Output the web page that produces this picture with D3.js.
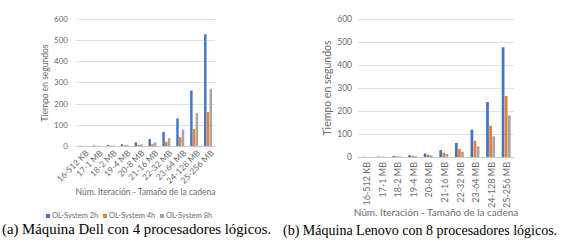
<!DOCTYPE html>
<html>
<head>
<meta charset="utf-8">
<script src="https://cdn.jsdelivr.net/npm/d3@7"></script>
<style>
  body { margin: 0; background: #fff; }
  svg { display: block; }
</style>
</head>
<body>
<svg id="chart" width="561" height="247"></svg>
<script>
// categories (iteration - string size)
var categories = ["16-512 KB", "17-1 MB", "18-2 MB", "19-4 MB", "20-8 MB",
                  "21-16 MB", "22-32 MB", "23-64 MB", "24-128 MB", "25-256 MB"];
var seriesNames = ["OL-System 2h", "OL-System 4h", "OL-System 8h"];
var yTicks = [0, 100, 200, 300, 400, 500, 600];

// (a) Dell, 4 logical processors
var dell2h = [1, 2, 4, 8, 17, 33, 66, 130, 261, 526];
var dell4h = [0.5, 1, 1.5, 3, 5, 10, 20, 41, 80, 160];
var dell8h = [0.5, 1, 2, 4, 8, 17, 37, 77, 155, 269];

// (b) Lenovo, 8 logical processors
var lenovo2h = [1, 2, 4, 7, 15, 30, 61, 119, 239, 477];
var lenovo4h = [0.7, 1.5, 3, 5, 10, 19, 35, 70, 135, 265];
var lenovo8h = [0.5, 1, 2, 4, 7, 13, 23, 46, 90, 181];

var colors = ["#4472C4", "#ED7D31", "#A5A5A5"];
var uiFont = "Lato, 'Open Sans', sans-serif";
var textGray = "#6a6a6a";

var svg = d3.select("#chart");

function drawChart(opts) {
    var g = svg.append("g");
    var rows = categories.map((c, i) => ({
        cat: c,
        vals: opts.series.map(s => s[i])
    }));

    var x = d3.scaleBand()
              .domain(categories)
              .range([opts.x0, opts.x1])
              .paddingInner(0.38)
              .paddingOuter(0.19);
    var xs = d3.scaleBand()
               .domain(d3.range(3))
               .range([0, x.bandwidth()])
               .padding(0.12);
    var y = d3.scaleLinear()
              .domain([0, 600])
              .range([opts.y0, opts.y1]);

    // gridlines
    g.append("g")
     .selectAll("line")
     .data(yTicks)
     .enter()
     .append("line")
     .attr("x1", opts.x0)
     .attr("x2", opts.x1)
     .attr("y1", d => Math.round(y(d)) + 0.5)
     .attr("y2", d => Math.round(y(d)) + 0.5)
     .attr("stroke", d => d === 0 ? "#c8c8c8" : "#e0e0e0")
     .attr("stroke-width", 1);

    // y axis labels
    var yAxis = g.append("g")
                 .attr("transform", `translate(${opts.x0},0)`)
                 .call(d3.axisLeft(y).tickValues(yTicks).tickSize(0).tickPadding(opts.x0 - opts.yLabelRight));
    yAxis.select(".domain").remove();
    yAxis.selectAll("text")
         .attr("fill", textGray)
         .style("font-family", uiFont)
         .style("font-size", opts.tickSize + "px");

    // bars
    g.append("g")
     .selectAll("g")
     .data(rows)
     .enter()
     .append("g")
     .attr("transform", d => `translate(${x(d.cat)},0)`)
     .selectAll("rect")
     .data(d => d.vals)
     .enter()
     .append("rect")
     .attr("x", (d, i) => xs(i))
     .attr("y", d => y(d))
     .attr("width", xs.bandwidth())
     .attr("height", d => y(0) - y(d))
     .attr("fill", (d, i) => colors[i]);

    // x axis labels
    var xAxis = g.append("g")
                 .attr("transform", `translate(0,${opts.y0})`)
                 .call(d3.axisBottom(x).tickSize(0).tickPadding(0));
    xAxis.select(".domain").remove();
    xAxis.selectAll("text")
         .attr("fill", textGray)
         .style("font-family", uiFont)
         .style("font-size", opts.catSize + "px")
         .attr("y", 0)
         .attr("dy", 0)
         .attr("transform", opts.rotate === 90
             ? "translate(2,5) rotate(-90)"
             : "translate(5,6) rotate(-45)")
         .attr("dominant-baseline", "middle")
         .style("text-anchor", "end");

    // axis titles
    g.append("text")
     .attr("x", (opts.x0 + opts.x1) / 2)
     .attr("y", opts.xTitleY)
     .attr("text-anchor", "middle")
     .attr("fill", textGray)
     .style("font-family", uiFont)
     .style("font-size", opts.xTitleSize + "px")
     .text("Núm. Iteración - Tamaño de la cadena");

    g.append("text")
     .attr("transform", `translate(${opts.yTitleX},${opts.yTitleMid}) rotate(-90)`)
     .attr("text-anchor", "middle")
     .attr("fill", textGray)
     .style("font-family", uiFont)
     .style("font-size", opts.yTitleSize + "px")
     .text("Tiempo en segundos");

    // legend
    if (opts.legend) {
        var legend = g.append("g")
                      .attr("transform", `translate(${opts.legend.x},${opts.legend.y})`);
        var item = legend.selectAll("g")
                         .data(seriesNames)
                         .enter()
                         .append("g")
                         .attr("transform", (d, i) => `translate(${i * opts.legend.step},0)`);
        item.append("rect")
            .attr("x", 0)
            .attr("y", -2)
            .attr("width", 4)
            .attr("height", 4)
            .attr("fill", (d, i) => colors[i]);
        item.append("text")
            .attr("x", 6)
            .attr("y", 0)
            .attr("dominant-baseline", "middle")
            .attr("fill", textGray)
            .style("font-family", uiFont)
            .style("font-size", opts.legend.size + "px")
            .text(d => d);
    }

    // caption
    g.append("text")
     .attr("x", opts.capX)
     .attr("y", opts.capY)
     .attr("fill", "#000")
     .style("font-family", "'Liberation Serif', 'Times New Roman', serif")
     .style("font-size", opts.capSize + "px")
     .text(opts.caption);
}

drawChart({
    series: [dell2h, dell4h, dell8h],
    x0: 76, x1: 215, y0: 146, y1: 18.5,
    yLabelRight: 68,
    tickSize: 8, catSize: 8.5, xTitleSize: 8.5, yTitleSize: 8.5,
    rotate: 45,
    xTitleY: 195, yTitleX: 48, yTitleMid: 83,
    legend: { x: 46, y: 216, step: 57, size: 7.5 },
    capX: 2, capY: 234, capSize: 14.8,
    caption: "(a) Máquina Dell con 4 procesadores lógicos."
});

drawChart({
    series: [lenovo2h, lenovo4h, lenovo8h],
    x0: 358, x1: 514, y0: 157, y1: 19,
    yLabelRight: 352,
    tickSize: 8.5, catSize: 9, xTitleSize: 10, yTitleSize: 10.5,
    rotate: 90,
    xTitleY: 216, yTitleX: 331, yTitleMid: 88,
    legend: null,
    capX: 283, capY: 235, capSize: 14,
    caption: "(b) Máquina Lenovo con 8 procesadores lógicos."
});
</script>
</body>
</html>
